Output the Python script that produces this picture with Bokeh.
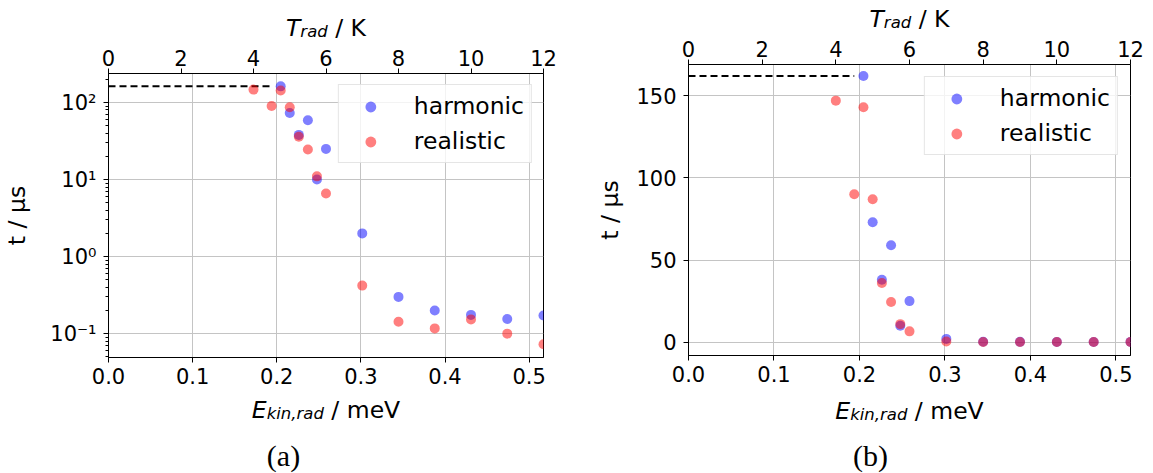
from bokeh.embed import file_html
from bokeh.layouts import column, row
from bokeh.models import (CustomJSTickFormatter, FixedTicker, Label, LinearAxis,
                          PrintfTickFormatter, Range1d)
from bokeh.plotting import figure
from bokeh.resources import INLINE

# Radiation temperature of each run (K) and the resulting time (µs)
T_HARMONIC = [4.75, 5.0, 5.25, 5.5, 5.75, 6.0, 7.0, 8.0, 9.0, 10.0, 11.0, 12.0]
TIME_HARMONIC = [162, 73, 38, 59, 10, 25, 2.0, 0.30, 0.20, 0.175, 0.155, 0.172]

T_REALISTIC = [4.0, 4.5, 4.75, 5.0, 5.25, 5.5, 5.75, 6.0, 7.0, 8.0, 9.0, 10.0, 11.0, 12.0]
TIME_REALISTIC = [147, 90, 143, 87, 36, 24.5, 11, 6.6, 0.42, 0.143, 0.117, 0.153, 0.10, 0.073]

# Reference level drawn as a dashed line
DASH_T = [0.0, 4.5]
DASH_TIME = 162

# Axis ticks and labels
T_TICKS = [0, 2, 4, 6, 8, 10, 12]
E_TICKS = [0.0, 0.1, 0.2, 0.3, 0.4, 0.5]
LOG_TICKS = [0.1, 1, 10, 100]
LOG_TICK_LABELS = ["10⁻¹", "10⁰", "10¹", "10²"]
LOG_MINOR = [m * 10.0 ** e for e in (-2, -1, 0, 1, 2) for m in range(2, 10)]
LIN_TICKS = [0, 50, 100, 150]

T_MAX = 12.0
K_B_HALF = 0.0430867  # meV per K  (E = k_B T / 2)

FONT = "DejaVu Sans"
TICK_SIZE = "21px"
LABEL_PX = 23.5
SUB_PX = 16.5
TEXT_SHIFT = 6  # rendered alphabetic baseline sits this far below the requested y

# DejaVu Sans advance widths (em) for the characters used in the composed labels
ADV = {"T": 0.611, "E": 0.632, "K": 0.656, "V": 0.684, "r": 0.411, "a": 0.613,
       "d": 0.635, "k": 0.579, "i": 0.278, "n": 0.634, ",": 0.318, "m": 0.974,
       "e": 0.615, " ": 0.318, "/": 0.337}


def strip(width, height):
    """Axis-free canvas that carries the composed axis titles and captions."""
    s = figure(width=width, height=height, min_border=0,
               x_axis_location=None, y_axis_location=None,
               x_range=Range1d(0, 1), y_range=Range1d(0, 1),
               output_backend="svg", toolbar_location=None)
    s.outline_line_color = None
    s.grid.visible = False
    s.background_fill_color = "white"
    s.border_fill_color = "white"
    return s


def composed_label(p, runs, cx, y):
    """Place text runs side by side, centred on cx (screen units from the frame)."""
    widths = [(pad + sum(ADV[c] for c in txt)) * size for txt, size, _, _, pad in runs]
    x = cx - sum(widths) / 2
    for (txt, size, italic, drop, pad), w in zip(runs, widths):
        p.add_layout(Label(x=x + pad * size, y=y - drop, x_units="screen", y_units="screen",
                           text=txt, text_font=FONT, text_font_size=f"{size}px",
                           text_font_style="italic" if italic else "normal",
                           text_align="left", text_baseline="alphabetic",
                           text_color="black"))
        x += w


def style_axis(ax, ticks, standoff):
    ax.ticker = FixedTicker(ticks=ticks)
    ax.major_label_text_font = FONT
    ax.major_label_text_font_size = TICK_SIZE
    ax.major_label_text_color = "black"
    ax.axis_line_color = "black"
    ax.axis_line_width = 1
    ax.major_tick_line_color = "black"
    ax.major_tick_out = 5
    ax.major_tick_in = 0
    ax.minor_tick_line_color = None
    ax.major_label_standoff = standoff


def panel(log, y_range, borders, frame, y_ticks, ylab_standoff, legend_margin):
    left, right, top, bottom = borders
    fw, fh = frame
    p = figure(frame_width=fw, frame_height=fh,
               min_border_left=left, min_border_right=right,
               min_border_top=top, min_border_bottom=bottom,
               x_range=Range1d(0, T_MAX * K_B_HALF), y_range=y_range,
               y_axis_type="log" if log else "linear",
               output_backend="svg", toolbar_location=None)
    p.extra_x_ranges = {"T": Range1d(0, T_MAX)}
    top_ax = LinearAxis(x_range_name="T")
    p.add_layout(top_ax, "above")
    bottom_ax = p.below[0]

    p.outline_line_color = "black"
    p.outline_line_width = 1
    p.background_fill_color = "white"
    p.border_fill_color = "white"

    style_axis(bottom_ax, E_TICKS, 5)
    bottom_ax.formatter = PrintfTickFormatter(format="%.1f")
    style_axis(top_ax, T_TICKS, 3)
    top_ax.formatter = PrintfTickFormatter(format="%d")

    yax = p.left[0]
    style_axis(yax, y_ticks, 7)
    if log:
        yax.ticker = FixedTicker(ticks=y_ticks, minor_ticks=LOG_MINOR)
        yax.minor_tick_line_color = "black"
        yax.minor_tick_out = 3
        yax.minor_tick_in = 0
        yax.formatter = CustomJSTickFormatter(
            args=dict(tick_vals=LOG_TICKS, tick_text=LOG_TICK_LABELS),
            code="""
                const i = tick_vals.findIndex(t => Math.abs(t - tick) < 1e-6 * t);
                return i >= 0 ? tick_text[i] : "";
            """)
    yax.axis_label = "t / μs"
    yax.axis_label_text_font = FONT
    yax.axis_label_text_font_size = f"{LABEL_PX}px"
    yax.axis_label_text_font_style = "normal"
    yax.axis_label_text_color = "black"
    yax.axis_label_standoff = ylab_standoff

    p.xgrid.ticker = FixedTicker(ticks=E_TICKS)
    p.ygrid.ticker = FixedTicker(ticks=y_ticks)
    for g in (p.xgrid, p.ygrid):
        g.grid_line_color = "#c4c4c4"
        g.grid_line_width = 1
        g.minor_grid_line_color = None

    p.line(x=DASH_T, y=[DASH_TIME, DASH_TIME], x_range_name="T",
           line_color="black", line_width=2, line_dash="7 4")
    p.scatter(x=T_HARMONIC, y=TIME_HARMONIC, x_range_name="T", size=10,
              fill_color="blue", fill_alpha=0.5, line_color=None,
              legend_label="harmonic")
    p.scatter(x=T_REALISTIC, y=TIME_REALISTIC, x_range_name="T", size=10,
              fill_color="red", fill_alpha=0.5, line_color=None,
              legend_label="realistic")

    lg = p.legend[0]
    lg.location = "top_right"
    lg.margin = legend_margin
    lg.padding = 7
    lg.spacing = 7
    lg.label_height = 27
    lg.glyph_height = 27
    lg.glyph_width = 49
    lg.label_standoff = 19
    lg.label_text_font = FONT
    lg.label_text_font_size = f"{LABEL_PX}px"
    lg.label_text_color = "black"
    lg.border_line_color = "#cccccc"
    lg.border_line_width = 1
    lg.background_fill_alpha = 0.8
    return p


def subfigure(width, log, y_range, borders, frame, y_ticks, ylab_standoff, legend_margin,
              top_h, top_base, bottom_base, caption, cap_x, cap_y):
    """Head strip (T axis title), main panel, foot strip (E axis title and caption).

    The strips' frames line up with the main frame, so x is measured from its left edge.
    """
    left, right, top, bottom = borders
    fw, fh = frame
    main = panel(log, y_range, borders, frame, y_ticks, ylab_standoff, legend_margin)
    main_h = top + fh + bottom
    cx = fw / 2

    head = strip(width, top_h)
    composed_label(head, [("T", LABEL_PX, True, 0, 0), ("rad", SUB_PX, True, 3.5, 0),
                          ("/ K", LABEL_PX, False, 0, 0.318)],
                   cx, top_h - top_base + TEXT_SHIFT)

    foot_h = 473 - top_h - main_h
    foot = strip(width, foot_h)
    y0 = top_h + main_h  # page y of the footer's top edge
    composed_label(foot, [("E", LABEL_PX, True, 0, 0), ("kin,rad", SUB_PX, True, 3.5, 0),
                          ("/ meV", LABEL_PX, False, 0, 0.318)],
                   cx, foot_h - (bottom_base - y0) + TEXT_SHIFT)
    foot.add_layout(Label(x=cap_x, y=foot_h - (cap_y - y0) + 3, x_units="screen",
                          y_units="screen", text=caption, text_font="Liberation Serif",
                          text_font_size="30px", text_align="center",
                          text_baseline="middle", text_color="black"))
    return column(head, main, foot)


left_col = subfigure(576, True, Range1d(0.049, 238), (108, 33, 33, 35), (435, 284),
                     LOG_TICKS, 16, 11, top_h=40, top_base=33, bottom_base=415.5,
                     caption="(a)", cap_x=175, cap_y=458)
right_col = subfigure(577, False, Range1d(-8.1, 169), (112, 23, 33, 35), (442, 291),
                      LIN_TICKS, 9, 12, top_h=31, top_base=24, bottom_base=416.5,
                      caption="(b)", cap_x=182, cap_y=458)

layout = row(left_col, right_col)
open("out.html", "w").write(file_html(layout, INLINE))
